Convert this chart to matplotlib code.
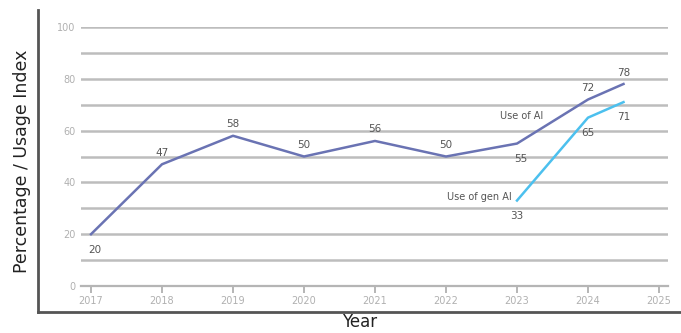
import matplotlib.pyplot as plt

# AI adoption series
years_ai = [2017, 2018, 2019, 2020, 2021, 2022, 2023, 2024, 2024.5]
use_ai = [20, 47, 58, 50, 56, 50, 55, 72, 78]
years_gen = [2023, 2024, 2024.5]
use_gen_ai = [33, 65, 71]
year_ticks = [2017, 2018, 2019, 2020, 2021, 2022, 2023, 2024, 2025]

W, H = 681, 333
fig = plt.figure(figsize=(W / 100, H / 100), dpi=100)

# outer frame with axis titles
outer = fig.add_axes([38 / W, (H - 312) / H, 1 - 38 / W, (312 - 10) / H])
outer.set_xticks([])
outer.set_yticks([])
outer.spines[["top", "right"]].set_visible(False)
for s in ["left", "bottom"]:
    outer.spines[s].set_color("#555555")
    outer.spines[s].set_linewidth(2)
outer.set_ylabel("Percentage / Usage Index", fontsize=12.5, color="#222222", labelpad=5)
outer.set_xlabel("Year", fontsize=12, color="#222222", labelpad=1)

# inner chart
px_year = 71
x0, x1 = 81, 668
y0, y1 = 286, 27
ax = fig.add_axes([x0 / W, (H - y0) / H, (x1 - x0) / W, (y0 - y1) / H])
ax.set_xlim(2017 - (91 - x0) / px_year, 2025 + (x1 - 659) / px_year)
ax.set_ylim(0, 100)
ax.patch.set_alpha(0)
for s in ["top", "right", "left"]:
    ax.spines[s].set_visible(False)
ax.spines["bottom"].set_color("#b5b5b5")
ax.spines["bottom"].set_linewidth(1.6)

for v in range(10, 101, 10):
    ax.axhline(v, color="#bdbdbd", lw=1.8, zorder=1)

ax.set_xticks(year_ticks)
ax.set_xticklabels([str(y) for y in year_ticks])
ax.set_yticks(range(0, 101, 20))
ax.tick_params(axis="x", colors="#b0b0b0", labelsize=7, length=5, width=1.3, pad=2)
ax.tick_params(axis="y", colors="#b0b0b0", labelsize=7, length=0, pad=4)

ax.plot(years_ai, use_ai, color="#6a73b3", lw=1.8, zorder=3)
ax.plot(years_gen, use_gen_ai, color="#4cc0ee", lw=1.8, zorder=3)

lbl = dict(fontsize=7.5, color="#555555", ha="center")
below_ai = {2017, 2023}
for x, v in zip(years_ai, use_ai):
    if x in below_ai:
        ax.text(x + 0.05, v - 4, str(v), va="top", **lbl)
    else:
        ax.text(x, v + 2.5, str(v), va="bottom", **lbl)
for x, v in zip(years_gen, use_gen_ai):
    ax.text(x, v - 4, str(v), va="top", **lbl)

ax.text(2023.37, 65.5, "Use of AI", fontsize=7, color="#555555", ha="right", va="center")
ax.text(2022.93, 34.5, "Use of gen AI", fontsize=7, color="#555555", ha="right", va="center")

fig.savefig("out.png", dpi=100)
